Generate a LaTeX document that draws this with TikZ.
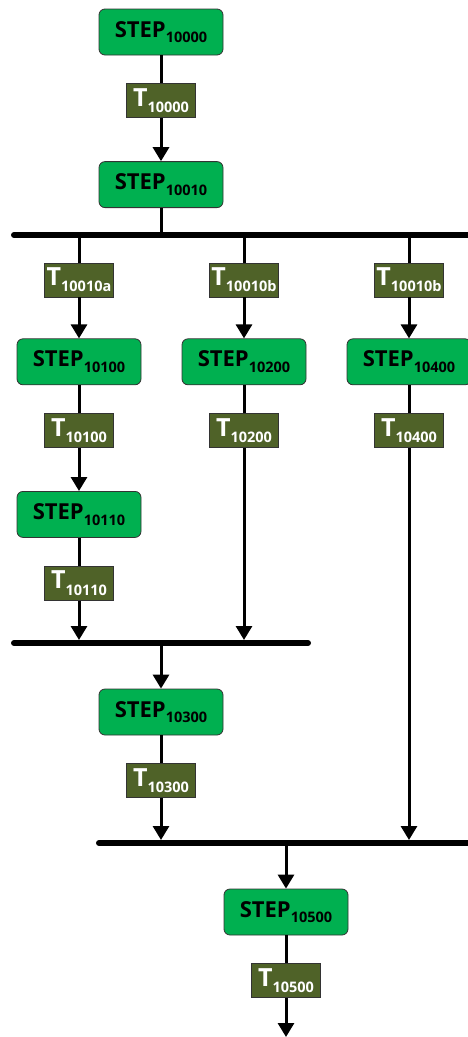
\documentclass[tikz,border=0pt]{standalone}
\usepackage{fontspec}
\setmainfont{Open Sans}
\usepackage{tikz}
\usetikzlibrary{positioning,arrows.meta}
\definecolor{stepgreen}{HTML}{00B050}
\definecolor{tolive}{HTML}{4F6228}
\definecolor{edgegrey}{HTML}{333333}
\newcommand{\idx}[1]{\raisebox{-0.25em}{\fontsize{14.5}{14.5}\selectfont #1}}

\begin{document}
\begin{tikzpicture}[
  x=1pt, y=1pt,
  stepbox/.style={draw=edgegrey, line width=0.8pt, fill=stepgreen, rounded corners=6pt, minimum width=124pt, minimum height=46pt, inner sep=2pt, font=\bfseries\fontsize{22}{22}\selectfont},
  tbox/.style={draw=edgegrey, line width=0.8pt, fill=tolive, minimum width=69pt, minimum height=34pt, inner sep=2pt, text=white, font=\bfseries\fontsize{25}{25}\selectfont},
  link/.style={line width=3pt},
  flow/.style={line width=3pt, -{Triangle[length=14pt,width=16pt]}},
  bus/.style={line width=6pt, line cap=round}
]
  \path[use as bounding box] (0,0) rectangle (468,-1037);

  % junction bars
  \coordinate (bus1w) at (14,-235);  \coordinate (bus1e) at (475,-235);
  \coordinate (bus2w) at (14,-643);  \coordinate (bus2e) at (308,-643);
  \coordinate (bus3w) at (99,-843);  \coordinate (bus3e) at (475,-843);
  \draw[bus] (bus1w) -- (bus1e);
  \draw[bus] (bus2w) -- (bus2e);
  \draw[bus] (bus3w) -- (bus3e);

  % taps on the bars
  \coordinate (b1in) at (161,-235);
  \coordinate (b1a) at (79,-235);  \coordinate (b1b) at (244,-235);  \coordinate (b1c) at (409,-235);
  \coordinate (b2a) at (79,-640);  \coordinate (b2b) at (244,-640);  \coordinate (b2out) at (161,-646);
  \coordinate (b3a) at (161,-840); \coordinate (b3c) at (409,-840);  \coordinate (b3out) at (286,-846);
  \coordinate (final) at (286,-1037);

  % head of the chain
  \node[stepbox] (s10000) at (161,-32) {STEP\idx{10000}};
  \node[tbox, below=28pt of s10000] (t10000) {T\idx{10000}};
  \node[stepbox, below=43pt of t10000] (s10010) {STEP\idx{10010}};

  % first branch
  \node[tbox] (t10010a) at (79,-280) {T\idx{10010a}};
  \node[stepbox, below=41pt of t10010a] (s10100) {STEP\idx{10100}};
  \node[tbox, below=28pt of s10100] (t10100) {T\idx{10100}};
  \node[stepbox, below=43pt of t10100] (s10110) {STEP\idx{10110}};
  \node[tbox, below=28pt of s10110] (t10110) {T\idx{10110}};

  % second branch
  \node[tbox] (t10010b) at (244,-280) {T\idx{10010b}};
  \node[stepbox, below=41pt of t10010b] (s10200) {STEP\idx{10200}};
  \node[tbox, below=28pt of s10200] (t10200) {T\idx{10200}};

  % third branch
  \node[tbox] (t10010c) at (409,-280) {T\idx{10010b}};
  \node[stepbox, below=41pt of t10010c] (s10400) {STEP\idx{10400}};
  \node[tbox, below=28pt of s10400] (t10400) {T\idx{10400}};

  % after the joins
  \node[stepbox] (s10300) at (161,-712) {STEP\idx{10300}};
  \node[tbox, below=28pt of s10300] (t10300) {T\idx{10300}};
  \node[stepbox] (s10500) at (286,-912) {STEP\idx{10500}};
  \node[tbox, below=28pt of s10500] (t10500) {T\idx{10500}};

  % connectors
  \draw[link] (s10000) -- (t10000);
  \draw[flow] (t10000) -- (s10010);
  \draw[link] (s10010) -- (b1in);

  \draw[link] (b1a) -- (t10010a);
  \draw[flow] (t10010a) -- (s10100);
  \draw[link] (s10100) -- (t10100);
  \draw[flow] (t10100) -- (s10110);
  \draw[link] (s10110) -- (t10110);
  \draw[flow] (t10110) -- (b2a);

  \draw[link] (b1b) -- (t10010b);
  \draw[flow] (t10010b) -- (s10200);
  \draw[link] (s10200) -- (t10200);
  \draw[flow] (t10200) -- (b2b);

  \draw[link] (b1c) -- (t10010c);
  \draw[flow] (t10010c) -- (s10400);
  \draw[link] (s10400) -- (t10400);
  \draw[flow] (t10400) -- (b3c);

  \draw[flow] (b2out) -- (s10300);
  \draw[link] (s10300) -- (t10300);
  \draw[flow] (t10300) -- (b3a);

  \draw[flow] (b3out) -- (s10500);
  \draw[link] (s10500) -- (t10500);
  \draw[flow] (t10500) -- (final);
\end{tikzpicture}
\end{document}
